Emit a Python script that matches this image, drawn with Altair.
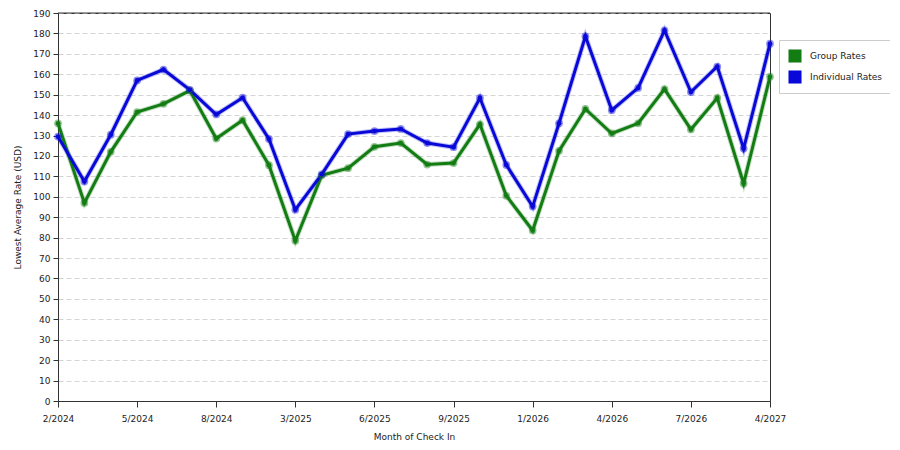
import altair as alt
import pandas as pd

months = ["2/2024", "3/2024", "4/2024", "5/2024", "6/2024", "7/2024", "8/2024",
          "10/2024", "12/2024", "3/2025", "4/2025", "5/2025", "6/2025", "7/2025",
          "8/2025", "9/2025", "10/2025", "11/2025", "1/2026", "2/2026", "3/2026",
          "4/2026", "5/2026", "6/2026", "7/2026", "9/2026", "12/2026", "4/2027"]

group_rates = [136, 97, 122, 141.5, 145.5, 152, 128.5, 137.5, 115.5, 78.5,
               110.5, 114, 124.5, 126.3, 115.8, 116.5, 135.5, 100.5, 83.5,
               122.5, 143, 131, 136, 152.7, 133, 148.4, 106.5, 158.8]

individual_rates = [129.5, 107.5, 130.4, 157, 162.3, 152.4, 140.3, 148.5, 128.3,
                    93.7, 111, 130.7, 132.2, 133.2, 126.3, 124.3, 148.4, 115.6,
                    95.2, 136, 178.6, 142.4, 153.3, 181.5, 151.3, 163.8, 123.6, 175]

series_names = ["Group Rates", "Individual Rates"]
series_colors = ["#137d13", "#0808d8"]
y_ticks = list(range(0, 200, 10))
y_max = 190
x_tick_idx = [0, 3, 6, 9, 12, 15, 18, 21, 24, 27]

rows = []
for i, m in enumerate(months):
    rows.append({"idx": i, "month": m, "series": series_names[0], "rate": group_rates[i]})
    rows.append({"idx": i, "month": m, "series": series_names[1], "rate": individual_rates[i]})
df = pd.DataFrame(rows)

label_list = "[" + ",".join('"%s"' % m for m in months) + "]"

font = "Tahoma, DejaVu Sans, sans-serif"

x_enc = alt.X("idx:Q",
              scale=alt.Scale(domain=[0, len(months) - 1], nice=False, zero=False),
              axis=alt.Axis(title="Month of Check In", values=x_tick_idx,
                            labelExpr=label_list + "[datum.value]",
                            grid=False, tickSize=6, labelPadding=7,
                            labelFlush=False, labelOverlap=False,
                            titlePadding=9))
y_enc = alt.Y("rate:Q",
              scale=alt.Scale(domain=[0, y_max], nice=False),
              axis=alt.Axis(title="Lowest Average Rate (USD)", values=y_ticks,
                            grid=True, gridDash=[5, 3], gridColor="#d4d4d4",
                            tickSize=5, labelPadding=3, titlePadding=10,
                            labelFlush=False, labelOverlap=False))
legend = alt.Legend(title=None, orient="none", legendX=721, legendY=27,
                    symbolType="square", symbolSize=170,
                    symbolStrokeWidth=0, symbolOpacity=1,
                    strokeColor="#cccccc", fillColor="white",
                    padding=9, rowPadding=7, labelFontSize=9,
                    labelOffset=8)
color_enc = alt.Color("series:N",
                      scale=alt.Scale(domain=series_names, range=series_colors),
                      legend=legend)

base = alt.Chart(df)

halo = base.mark_line(strokeWidth=5, opacity=0.25).encode(x=x_enc, y=y_enc, color=color_enc)
lines = base.mark_line(strokeWidth=3).encode(x=x_enc, y=y_enc, color=color_enc)
points_halo = base.mark_circle(size=60, opacity=0.45).encode(x=x_enc, y=y_enc, color=color_enc)
points = base.mark_circle(size=22, opacity=1).encode(x=x_enc, y=y_enc, color=color_enc)

top_rule = alt.Chart(pd.DataFrame({"rate": [y_max]})).mark_rule(
    color="#333333", strokeWidth=1).encode(y=y_enc)

chart = alt.layer(halo, lines, points_halo, points, top_rule).properties(
    width=712, height=388,
    autosize=alt.AutoSizeParams(type="none"),
    padding={"left": 50, "top": 5, "right": 120, "bottom": 40},
).configure_view(stroke="#333333", strokeWidth=1).configure_axis(
    domainColor="#333333", tickColor="#333333", labelColor="#222222",
    titleColor="#222222", labelFont=font, titleFont=font,
    labelFontSize=9, titleFontSize=9, titleFontWeight="normal",
).configure_legend(labelFont=font, labelColor="#222222")

chart.save("out.html", embed_options={"renderer": "svg", "actions": False})
